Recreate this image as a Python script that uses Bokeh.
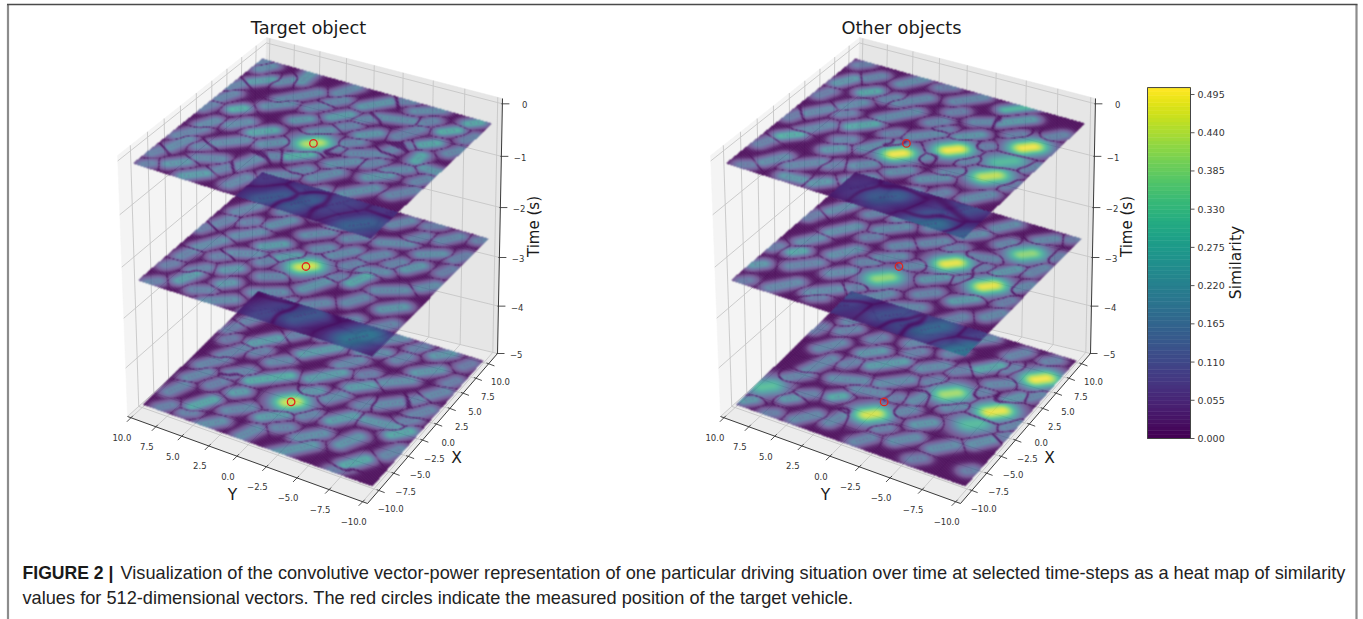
import numpy as np
from bokeh.plotting import figure
from bokeh.models import Range1d
from bokeh.embed import file_html
from bokeh.resources import INLINE
from bokeh.core.properties import value
from bokeh.palettes import Viridis256

W, H = 1363, 619

# ---------------- data ----------------
TITLES = ["Target object", "Other objects"]
AXIS_TICKS = [10.0, 7.5, 5.0, 2.5, 0.0, -2.5, -5.0, -7.5, -10.0]
TIME_TICKS = [0, -1, -2, -3, -4, -5]
CB_TICKS = [0.0, 0.055, 0.11, 0.165, 0.22, 0.275, 0.33, 0.385, 0.44, 0.495]
CB_MAX = 0.505
CIRCLE_X = [0.0, -1.3, -3.3]
CIRCLE_Y = [0.0, 0.05, 0.15]
CAPTION_1 = ("Visualization of the convolutive vector-power representation of one particular driving "
             "situation over time at selected time-steps as a heat map of similarity")
CAPTION_2 = ("values for 512-dimensional vectors. The red circles indicate the measured position of the target vehicle.")

# similarity lobes: x, y, half-length dx, half-length dy, peak
L1 = [(0,0,.3,-.3,.44),(6.7,8.2,.6,-.6,.24),(9.1,5.5,.9,0,.22),(1.7,7.5,.3,-.3,.29),(-.4,4.1,.6,-.6,.27),
      (-2.2,0,.6,-.6,.29),(4.9,.3,.6,-.5,.24),(0,-1.6,.3,-.3,.18),(7.2,-7.8,.4,-.4,.29),(4.6,-7.4,.4,-.4,.27),
      (9.3,-8.8,.3,-.3,.27),(2.2,-7.7,.5,0,.27),(-8.9,5.2,.6,-.6,.24),(-8.1,7.2,.5,-.5,.22),(1.1,-9.5,0,-.8,.22),
      (3.5,-2.9,.5,-.5,.22),(8.1,-1.2,1,-.8,.22),(8.8,9,.5,-.3,.19),(6,4.5,1.3,-1,.18),(3.9,5.2,.7,-.7,.19),
      (8.8,1.8,.8,-.4,.18),(6.7,-3.5,.4,-1.2,.2),(9.2,-5,.6,-.8,.19),(5.3,-5.3,1,-.5,.17),(2.8,2.5,.4,-.4,.22),
      (2,.4,.5,-.5,.2),(-3.5,8.8,1,-.6,.17),(-1.5,8.3,.6,-.3,.19),(-5.5,8.6,1,-.3,.19),(-3.2,5.5,.9,-.9,.19),
      (-6.2,5.5,.4,-.8,.18),(-1.6,2.6,.6,-.6,.2),(-5,2.7,1.2,-.5,.19),(-8,2,.8,-.3,.18),(-9,-.5,1,-.5,.2),
      (-5.5,-.2,.6,-.8,.18),(-3.8,-3,.9,-.6,.19),(-1.4,-3.3,.7,-.7,.2),(.8,-4.2,.6,-1,.18),(-6.8,-3.2,1,-.8,.17),
      (-4.5,-6.2,1,-.8,.2),(-1.8,-6.4,.6,-.6,.22),(-.2,-7.2,.5,-.6,.19),(-3,-9,.8,-.6,.17),(4.5,-9.5,.5,-.3,.18),
      (9.5,9.7,.2,-.2,.16),(3,9.3,.7,-.3,.17),(5.6,-1.7,.4,-.4,.18),(2.4,-5.5,.7,-.3,.17),(-7.6,-6,.8,-.8,.16),
      (7.6,6.6,.5,-.4,.19),(5,9.5,.6,-.3,.17),(.8,9.7,.5,-.2,.16),(-.3,6.3,.6,-.5,.19),(-4.8,6.9,.3,-.3,.17),
      (-7.4,9.4,.5,-.2,.16),(-9.4,9,.2,-.2,.16),(-6.9,3.8,.5,-.3,.17),(-3.4,1.7,.3,-.5,.18),(-7.2,-1.2,.5,-.4,.17),
      (-4.1,-1.2,.4,-.3,.18),(-.3,-5.2,.4,-.3,.17),(1.6,-2.4,.4,-.4,.18),(3.8,-1,.3,-.3,.17),(6.8,1.6,.5,-.4,.18),
      (5.2,2.5,.5,-.4,.18),(9.6,-2.8,.3,-.5,.17),(7.6,-5.8,.4,-.3,.17),(7,-9.6,.5,-.2,.16),(3.3,-6,.3,-.3,.16),
      (-.6,-9.4,.5,-.3,.17),(-8.8,-3,.5,-.4,.17)]
L2 = [(-1.3,.06,.3,-.3,.47),(-.87,-4.26,.8,-.3,.27),(2.9,-7,.6,-.4,.22),(-6.7,4,.3,-.3,.22),(-7.5,7,.8,-.3,.24),
      (-.7,1.9,.5,-.5,.24),(-4.7,4.7,.4,-.4,.22),(.2,3.7,.6,-.6,.24),(-3.2,-8.3,.6,-.6,.22),(-3.4,-1.8,1,-.5,.21),
      (2,-1.5,.8,-.6,.19),(3.6,1.6,.7,-.7,.19),(6.3,.2,1.1,-.8,.18),(8.6,-3.2,.7,-.5,.18),(5.5,-4.2,.5,-1,.19),
      (8.8,3.5,.6,-.6,.17),(7.2,7.2,1.2,-.7,.19),(4.1,8.2,.9,-.5,.18),(1.3,8.8,.7,-.3,.17),(3.6,4.8,.8,-.5,.2),
      (.7,6.2,.8,-.7,.19),(-2.2,8,1,-.6,.19),(-4.5,8.8,.6,-.2,.17),(-2.1,5,.5,-.9,.19),(-9.2,3.3,.7,-.9,.19),
      (-8.7,.3,.9,-.3,.18),(-6.2,.7,.6,-.9,.19),(-4,1.6,.4,-.6,.18),(-8.8,-2.6,.9,-.6,.15),(-5.9,-3,.7,-.7,.18),
      (-7,-6.1,.9,-.6,.17),(-1,-7,.6,-.9,.19),(.9,-4.7,.3,-.8,.19),(1,-9.2,.5,-.4,.19),(3,-3.8,.6,-.5,.18),
      (5.5,-7.3,.5,-.7,.2),(8.4,-7.5,.7,-.5,.18),(6.2,-9.4,.6,-.3,.16),(9.4,-9.6,.2,-.2,.16),(9.3,.3,.4,-.9,.17),
      (-5.9,-8.8,.7,-.5,.17),(-9.5,8.9,.3,-.3,.16),(4.6,-1.2,.5,-.5,.18),(1.8,.2,.4,-.4,.18),
      (5.6,5.2,.5,-.4,.17),(9.1,9.2,.4,-.2,.15),(2.4,7,.3,-.3,.16),(6.4,2.6,.4,-.3,.17),(8.2,1.6,.3,-.3,.16),
      (-.3,9.6,.4,-.2,.15),(-3.4,6.4,.3,-.3,.16),(-6,6.8,.5,-.4,.17),(-6.6,9.1,.3,-.2,.15),(-8.6,5.2,.3,-.5,.16),
      (-2.2,3,.4,-.3,.17),(.8,-2.8,.4,-.3,.17),(-1.5,-2.7,.3,-.3,.16),(2.8,-5.6,.4,-.3,.17),(7.2,-5.4,.5,-.3,.17),
      (9.5,-5.6,.3,-.4,.15),(3.8,-9.4,.5,-.2,.15),(-3.7,-5.4,.7,-.4,.18),(-6.9,-1.1,.4,-.3,.16),(-8.6,-8.6,.4,-.3,.14)]
L3 = [(-3.32,.15,.25,-.25,.46),(3.5,5.96,.9,-.7,.24),(4.5,1.5,1.2,-1,.24),(-1.2,3.1,1.2,-1.2,.29),(1.5,-.5,1.1,-.9,.24),
      (9.1,-7,.5,-.5,.22),(-2.6,-8.8,.6,-.5,.27),(-7.9,-7.6,.8,-.5,.27),(-5.8,.5,.7,-.7,.24),(-4.3,4.3,.3,-.3,.24),
      (-7.2,6,.9,-.5,.27),(-2.2,-7,.2,-1.2,.22),(6.3,-7,.7,-.7,.22),(1.6,-3.5,.6,-.6,.24),(-1.1,-.6,.4,-.4,.22),
      (-8.9,-2.9,1.3,-1,.22),(-3.2,-4.2,.8,-.6,.24),(8.8,8.6,.7,-.4,.16),(6.2,8.2,1,-.5,.17),(8.2,4.4,.9,-.6,.18),
      (7.1,1.5,.7,-.7,.17),(6.5,-2.2,.5,-.9,.19),(9.2,-2.8,.6,-.6,.19),(3.7,-5.6,.7,-.8,.2),(3.8,-8.9,.6,-.4,.18),
      (.7,-6.5,.8,-.8,.19),(.8,-9,.7,-.4,.17),(1.4,3.6,.5,-.5,.18),(.7,7.4,1.1,-.6,.17),(-1.6,8.2,.9,-.6,.17),
      (-3.9,8.3,.8,-.5,.18),(-1.7,5.6,.6,-.6,.17),(-6.5,8.8,.8,-.3,.17),(-9.2,8.3,.4,-.3,.16),(-9.3,4.1,.7,-.6,.2),
      (-8.8,1,.8,-.3,.19),(-6.4,3.2,.7,-.7,.18),(-6.6,-3.2,.8,-.7,.2),(-5.6,-6,.9,-.4,.21),(-9.3,-7,.5,-.4,.15),
      (-.9,-2.4,.6,-.4,.19),(4.2,-1.3,.8,-.5,.18),(-5.2,-9.4,.7,-.3,.18),(9.4,.2,.5,-.4,.15),
      (5.6,4.2,.4,-.3,.16),(3.8,9.2,.5,-.2,.15),(2.2,8.6,.3,-.2,.14),(8.9,-.9,.3,-.4,.14),(6.9,-4.5,.5,-.3,.17),
      (9,-5,.4,-.3,.16),(8.7,-9.2,.4,-.2,.14),(2,-7.8,.4,-.3,.17),(-.8,-8.6,.4,-.3,.16),(-.5,-4.9,.4,-.3,.17),
      (-4.2,-1.8,.4,-.3,.17),(-2.4,5.9,.2,-.2,.15),(-4.2,6.4,.5,-.3,.16),(-9,6.3,.2,-.3,.16),(-6.8,-.9,.3,-.4,.17),
      (1.8,5.6,.4,-.3,.16),(5.9,-9.2,.4,-.2,.15),(3.4,-3.2,.3,-.3,.15)]
R1 = [(-1.72,-.24,.25,-.25,.5),(1.02,-3.42,.3,-.3,.5),(4.35,-8,.3,-.3,.5),(-1.02,-7.56,.35,-.35,.45),(1.53,-7.56,.4,-.4,.31),
      (9.5,-4.71,.8,-.8,.3),(5.7,6.3,.4,-.4,.27),(-3.6,8.1,.5,-.5,.29),(.7,4.2,.7,-.7,.27),(3.6,-3.5,.6,-.6,.22),
      (7.5,-5.4,.9,-.9,.24),(6.3,8.8,.7,-.4,.22),(-8.6,2.6,.4,-.4,.22),(-9.1,4.6,.1,-.7,.22),(-3.7,4.2,.4,-.4,.22),
      (-.6,-2.6,.7,-.5,.19),(1.9,-.6,.8,-.8,.19),(4.2,-.4,.4,-.4,.17),(3.6,2.6,1.2,-.9,.19),(6.2,2.8,1,-.8,.18),
      (8.7,-.8,.9,-.8,.18),(9,4.3,.9,-.6,.19),(3.2,6.4,.7,-.5,.19),(.8,8.2,.8,-.6,.18),(-1.6,7,1,-.7,.18),
      (-1.6,1.8,.9,-.6,.2),(-.7,.8,.3,-.3,.2),(-4.6,1.2,.5,-.5,.19),(-6.8,4.9,.9,-.9,.18),(-7.5,7.2,.8,-.5,.19),
      (-4,-1.6,.5,-.5,.19),(-6.6,.4,.7,-.7,.18),(-9.2,-.4,.7,-.3,.18),(-3.6,-4.2,.6,-.7,.2),(-6.5,-3.4,.6,-.6,.18),
      (-4.2,-8.2,.8,-.6,.19),(-2,-5,.4,-.5,.18),(-7,-6.8,.7,-.7,.16),(-9.2,-9,.3,-.3,.15),(6.2,-3.6,.5,-.8,.18),
      (5.6,-6.4,.3,-.3,.16),(9.4,9,.3,-.3,.15),(7,-9,.5,-.4,.17),(1.7,-9.5,.5,-.3,.17),
      (8,7.2,.5,-.4,.17),(5.6,4.4,.4,-.3,.17),(1.6,6.2,.3,-.3,.16),(3.6,9.2,.5,-.2,.15),(-.8,9.4,.5,-.2,.15),
      (-5.6,9.2,.5,-.2,.16),(-2,4.2,.3,-.4,.17),(-5.8,3,.3,-.3,.16),(-9.3,8.6,.2,-.3,.15),(-7.8,-1.6,.4,-.3,.16),
      (.2,-5.2,.4,-.3,.17),(2.7,-5.2,.3,-.3,.16),(3.4,-1.5,.2,-.2,.15),(.8,1.6,.3,-.3,.16),(6.4,-.9,.3,-.3,.16),
      (9.5,1.6,.3,-.4,.15),(-1.4,-9.4,.5,-.2,.15),(-5.4,-5.6,.5,-.3,.16)]
R2 = [(1.25,-3.15,.3,-.3,.49),(5.6,-7.45,.3,-.3,.4),(-3.43,.25,.35,-.35,.4),(-.25,-7.05,.3,-.3,.49),(-1.4,-3.1,.6,-.6,.22),
      (2.5,-7.3,.7,-.5,.22),(-3,-6.4,.6,-.6,.24),(-3.5,7.8,.3,-.3,.27),(-6.8,9.4,.3,-.3,.22),(-4.9,6.4,.8,-.8,.17),
      (-8.4,6.2,.9,-.7,.18),(-7.5,3.2,.8,-.8,.19),(-4.4,3.4,.6,-.6,.19),(-1.6,4.6,.9,-.6,.2),(-.4,1.3,.6,-.7,.19),
      (-1.4,7.8,.7,-.5,.19),(1.4,6.4,1,-.7,.2),(4.2,8.2,.9,-.5,.19),(7.2,7.8,1,-.6,.18),(3.6,3.2,.8,-.8,.19),
      (1.6,1.4,.4,-.4,.18),(3.4,-.6,.6,-.6,.18),(6.2,2.8,1.1,-.8,.19),(8.8,-.7,.8,-.6,.18),(6,-2.6,.6,-.6,.19),
      (8.6,-4.2,.7,-.5,.19),(8.4,-7.8,.5,-.5,.18),(3.3,-4.8,.3,-.9,.17),(-.6,-.9,.4,-.4,.18),(-6,-.6,.8,-.6,.19),
      (-8.9,-.7,.6,-.4,.18),(-6.2,-3.2,.5,-.9,.18),(-3.7,-3.6,.5,-.5,.17),(-6,-6.9,.8,-.5,.17),(-3.8,-9.2,.6,-.4,.18),
      (1,-9.3,.6,-.4,.18),(3.8,-9.2,.7,-.3,.17),(-.3,-4.9,.3,-.3,.16),(9.3,9.3,.3,-.2,.15),
      (5,5.4,.5,-.4,.17),(8.8,4.8,.4,-.4,.16),(2,9.5,.5,-.2,.15),(-3.8,9.6,.3,-.2,.15),(-9.4,9,.2,-.2,.14),
      (-5.8,1.4,.3,-.3,.16),(-2,2.4,.3,-.4,.17),(1.5,4,.3,-.3,.16),(5.4,.5,.3,-.3,.16),(9.4,1.8,.3,-.3,.15),
      (3.5,-2.4,.3,-.3,.16),(1.8,-5.4,.3,-.3,.15),(6.2,-5.4,.4,-.3,.17),(6.4,-9.6,.4,-.2,.15),(-1.6,-9.2,.4,-.2,.15),
      (-8.4,-3.8,.3,-.4,.15),(-8.6,3.2,.2,-.3,.15),(9.5,-9.5,.2,-.2,.14)]
R3 = [(-5.37,.2,.3,-.3,.47),(.54,-3.76,.35,-.35,.42),(6.12,-8.75,.3,-.3,.5),(.16,-7.72,.35,-.35,.49),(-2.3,-7,.3,-.3,.31),
      (5.5,-4.7,.7,-.6,.27),(-6.4,9.1,.3,-.3,.32),(-4.6,3.6,.3,-.3,.27),(-8.9,9.4,.3,-.3,.22),(-6.9,6.7,.3,-.3,.22),
      (2.3,-8,.8,-.5,.22),(-4.3,-3.8,.5,-.5,.22),(1.7,2.4,1,-1,.24),(2.6,4.2,.6,-.6,.22),(-8,-9.4,.2,-.2,.15),
      (6.4,7.6,.9,-.5,.17),(8.9,5.6,.7,-.5,.18),(4.5,7.4,.5,-.5,.17),(1.6,7.6,.9,-.6,.18),(-1.3,7,1.3,-.5,.18),
      (-2,4,.5,-1.1,.19),(-.3,.7,.9,-.9,.19),(-2.6,1.8,.3,-1,.18),(-3.8,7.8,.7,-.6,.17),(-8.5,4.4,.8,-.6,.18),
      (-7.4,2.2,.8,-.3,.18),(-8.8,-.8,.6,-.4,.17),(-3.6,-1.8,.5,-.4,.18),(-1.3,-2,.7,-.3,.19),(3.2,-.9,.7,-.7,.19),
      (6.2,1.4,.9,-.8,.18),(8.8,1,.7,-.6,.19),(8.8,-2.4,.7,-.7,.18),(3.9,-3,.4,-.4,.16),(3.8,-6.4,.5,-.6,.18),
      (8.4,-5.8,.6,-.4,.17),(8.9,-8.4,.3,-.3,.16),(-7,-3.5,.7,-.6,.19),(-6.3,-6.4,.7,-.6,.19),(-4.1,-8.6,.7,-.5,.2),
      (-1,-4.8,.5,-.5,.18),(-.9,-9.5,.6,-.3,.17),(3.7,-9.4,.5,-.3,.17),
      (4.6,4.8,.4,-.3,.16),(9.2,9.2,.3,-.2,.14),(3.4,9.6,.5,-.2,.14),(.2,5,.4,-.3,.16),(-5.6,5.8,.3,-.4,.16),
      (-9.5,7,.2,-.3,.15),(-5.8,1.6,.3,-.2,.16),(-6.6,-1.4,.3,-.3,.16),(-2.3,-.4,.2,-.2,.15),(1.4,-1.8,.4,-.3,.16),
      (6,-1.4,.5,-.3,.17),(4.4,1.2,.4,-.3,.16),(9.5,3.6,.2,-.3,.14),(6.2,-6.2,.4,-.3,.16),(1.8,-5.6,.4,-.3,.16),
      (-2.6,-9.6,.4,-.2,.15),(-8.8,-5.4,.3,-.3,.15)]
# overlap strips, seen through two layers
S_L12 = [(-8.8,-1.2,.7,-.7,.14),(-8.2,-3.4,.7,-.5,.15),(-8.7,-8.5,.6,-.6,.16),(-7,-5.6,.9,-.6,.1),(-5.8,-3.2,.7,-.5,.1),(-6,-9.5,.3,-.3,.07),(-6.3,.2,.4,-.4,.07)]
S_L23 = [(-7.6,-3.1,.8,-.6,.14),(-8.2,-8,.7,-.5,.22),(-8.5,-.8,.9,-.6,.1),(-6,-4.3,.6,-.5,.08),(-5.8,-1.6,.5,-.5,.07),(-6.3,-9,.5,-.4,.05)]
S_R12 = [(-7.8,-2.6,.5,-.5,.16),(-9.7,-6.9,.6,-.6,.2),(-9.8,-9.7,.4,-.4,.16),(-8,-7,.5,-.5,.13),(-6.2,-8.3,.6,-.4,.12),(-7.8,-.1,.5,-.5,.07),(-6.2,-3,.5,-.5,.08)]
S_R23 = [(-9.4,-9.4,.5,-.5,.22),(-7.9,-6.1,.7,-.5,.18),(-7.8,-2.8,.6,-.6,.12),(-6.4,.9,.4,-.4,.14),(-8.4,-4.4,.4,-.4,.12),(-6.8,-9.8,.4,-.4,.1),(-8.6,.9,.4,-.4,.1)]

# ---------------- camera calibration of the 3-D view (left panel, page pixels) ----------------
PANEL_SHIFT = [0, 593]
G = 10.35
X_TICK_SCALE = 0.875
FLOOR = [(127, 416), (260, 296), (497, 353), (367, 503)]   # corner order: left, back, right, front
CEIL = [(117, 155), (266, 37), (502, 98), (356, 251)]
PLANES = [[(132, 163), (262, 58), (492, 123), (370, 238)],
          [(137, 280), (262, 172), (488, 238), (372, 356)],
          [(142, 404), (258, 291), (483, 360), (372, 486)]]
T_TOP, T_BOT = 0.1, -5.0


def homography(src, dst):
    A, b = [], []
    for (x, y), (u, v) in zip(src, dst):
        A.append([x, y, 1, 0, 0, 0, -u * x, -u * y]); b.append(u)
        A.append([0, 0, 0, x, y, 1, -v * x, -v * y]); b.append(v)
    h = np.linalg.solve(np.array(A, float), np.array(b, float))
    return np.append(h, 1).reshape(3, 3)


def apply(M, x, y):
    d = M[2, 0] * x + M[2, 1] * y + M[2, 2]
    return (M[0, 0] * x + M[0, 1] * y + M[0, 2]) / d, (M[1, 0] * x + M[1, 1] * y + M[1, 2]) / d


def corners_xy(L):
    return [(-L, L), (L, L), (L, -L), (-L, -L)]


HF = homography(corners_xy(G), FLOOR)
HC = homography(corners_xy(G), CEIL)
HP = [homography(corners_xy(10), c) for c in PLANES]
HPI = [np.linalg.inv(m) for m in HP]


def p3(x, y, t):
    f = apply(HF, x, y)
    c = apply(HC, x, y)
    k = (t - T_BOT) / (T_TOP - T_BOT)
    k = k - 0.066 * k * (1 - k)
    return f[0] + (c[0] - f[0]) * k, f[1] + (c[1] - f[1]) * k


PAL = np.array([[int(c[i:i + 2], 16) for i in (1, 3, 5)] for c in Viridis256], float)


def field(X, Y, blobs, sigma, peak_sigma):
    f1 = np.zeros(X.shape)
    f2 = np.zeros(X.shape)
    core = np.zeros(X.shape, bool)
    for (bx, by, dx, dy, a) in blobs:
        L2_ = dx * dx + dy * dy
        s = np.clip(((X - bx) * dx + (Y - by) * dy) / L2_, -1, 1)
        ex, ey = X - (bx + s * dx), Y - (by + s * dy)
        d2 = ex * ex + ey * ey
        sg = peak_sigma if a > .3 else sigma
        f = a * np.exp(-d2 / (2 * sg * sg))
        win = f > f1
        f2 = np.where(win, f1, np.maximum(f2, f))
        c = (d2 < 0.014) & (np.floor(s * 7 * np.sqrt(L2_)) % 2 == 0) & (np.abs(s) < .999) & (a < .3)
        core = np.where(win, c, core)
        f1 = np.where(win, f, f1)
    g = np.clip((f1 - f2) / (f1 + 1e-6) / 0.45, 0, 1)
    g = g * g * (3 - 2 * g)
    v = f1 * (0.1 + 0.9 * g)
    v = np.where(core, v * 0.65, v)
    return np.clip(v, 0, None), g


def blur(a):
    k = np.array([.18, .64, .18])
    out = a.copy()
    out[:, 1:-1] = k[0] * a[:, :-2] + k[1] * a[:, 1:-1] + k[2] * a[:, 2:]
    o2 = out.copy()
    o2[1:-1, :] = k[0] * out[:-2, :] + k[1] * out[1:-1, :] + k[2] * out[2:, :]
    return o2


def plane_image(idx, blobs, strip=None):
    c = np.array(PLANES[idx])
    x0, x1 = int(c[:, 0].min()) - 2, int(c[:, 0].max()) + 3
    y0, y1 = int(c[:, 1].min()) - 2, int(c[:, 1].max()) + 3
    ix, iy = np.meshgrid(np.arange(x0, x1), np.arange(y0, y1))
    px, py = ix + .5, iy + .5
    X, Y = apply(HPI[idx], px, py)
    inside = (np.abs(X) <= 10) & (np.abs(Y) <= 10)
    v, g = field(X, Y, blobs, 0.5, 0.95)
    # dark speckled seams between lobes
    seam = np.clip(1 - g / 0.5, 0, 1) + np.clip(1 - v / 0.045, 0, 1)
    seam = np.clip(seam, 0, 1) * (((ix + 2 * iy) % 3) != 0)
    alpha = np.where(inside, 0.72 + 0.27 * seam, 0.0)
    if strip is not None:
        X2, Y2 = apply(HPI[idx + 1], px, py)
        over = inside & (np.abs(X2) <= 10) & (np.abs(Y2) <= 10)
        vs, gs = field(X, Y, strip, 1.1, 1.1)
        v = np.where(over, vs * 0.85 + 0.015, v)
        alpha = np.where(over, 0.88, alpha)
    idxs = np.clip(v / CB_MAX * 255, 0, 255).astype(int)
    rgb = PAL[idxs]
    out = np.zeros(v.shape + (4,))
    for i in range(3):
        out[..., i] = blur(rgb[..., i] * alpha)
    a = blur(alpha)
    for i in range(3):
        out[..., i] = np.where(a > 1e-3, out[..., i] / np.maximum(a, 1e-3), 0)
    out[..., 3] = a * 255
    o = np.clip(out, 0, 255).astype(np.uint32)
    img = o[..., 0] | (o[..., 1] << 8) | (o[..., 2] << 16) | (o[..., 3] << 24)
    return img[::-1], x0, y1, x1 - x0, y1 - y0


p = figure(width=W, height=H, x_range=Range1d(0, W), y_range=Range1d(0, H),
           output_backend="svg", toolbar_location=None, min_border=0,
           x_axis_type=None, y_axis_type=None, outline_line_color=None)
p.grid.visible = False


def fy(v):
    return H - v


def T(x, y, s, size, align="center", base="middle", angle=0.0, color="#333333", font="DejaVu Sans", style="normal"):
    p.text([x], [fy(y)], text=[s], text_font=value(font), text_font_size=value(f"{size}px"), text_align=align,
           text_baseline=base, angle=angle, text_color=color, text_font_style=style)


def poly(pts, sh, color):
    p.patch([a + sh for a, b in pts], [fy(b) for a, b in pts], fill_color=color, line_color=color, line_width=.5)


def seg(lines, sh, color, w):
    p.multi_line([[a + sh, c + sh] for (a, b), (c, d) in lines], [[fy(b), fy(d)] for (a, b), (c, d) in lines],
                 line_color=color, line_width=w)


PLANE_DATA = [[L1, L2, L3], [R1, R2, R3]]
STRIP_DATA = [[S_L12, S_L23], [S_R12, S_R23]]
GRIDC = "#c6c6c6"
XS = X_TICK_SCALE

for k, sh in enumerate(PANEL_SHIFT):
    lb = p3(-G, G, T_BOT); bb = p3(G, G, T_BOT); rb = p3(G, -G, T_BOT); fb = p3(-G, -G, T_BOT)
    lt = p3(-G, G, T_TOP); bt = p3(G, G, T_TOP); rt = p3(G, -G, T_TOP)
    poly([lb, bb, bt, lt], sh, "#f4f4f4")
    poly([bb, rb, rt, bt], sh, "#e6e6e6")
    poly([lb, bb, rb, fb], sh, "#ececec")
    g = []
    for v in AXIS_TICKS:
        g.append((p3(v * XS, -G, T_BOT), p3(v * XS, G, T_BOT)))
        g.append((p3(-G, v, T_BOT), p3(G, v, T_BOT)))
        g.append((p3(v * XS, G, T_BOT), p3(v * XS, G, T_TOP)))
        g.append((p3(G, v, T_BOT), p3(G, v, T_TOP)))
    for t in TIME_TICKS:
        g.append((p3(-G, G, t), p3(G, G, t)))
        g.append((p3(G, G, t), p3(G, -G, t)))
    seg(g, sh, GRIDC, 0.9)

    for i in [2, 1, 0]:
        strip = STRIP_DATA[k][i] if i < 2 else None
        img, x, yb, dw, dh = plane_image(i, PLANE_DATA[k][i], strip)
        p.image_rgba(image=[img], x=x + sh, y=fy(yb), dw=dw, dh=dh)

    cx, cy = [], []
    for i in range(3):
        a, b = apply(HP[i], CIRCLE_X[i], CIRCLE_Y[i])
        cx.append(a + sh); cy.append(fy(b))
    p.scatter(cx, cy, size=7.5, marker="circle", fill_alpha=0, line_color="#e0261c", line_width=1.3)

    seg([(lb, fb), (fb, rb), (rb, rt)], sh, "#3a3a3a", 1.0)
    ticks = []
    for v in AXIS_TICKS:
        q = p3(v * XS, -G, T_BOT)
        ticks.append(((q[0] - 2, q[1] - 1), (q[0] + 6, q[1] + 2)))
        T(q[0] + sh + 12, q[1] + 18, f"{v:.1f}".replace("-", "\u2212"), 8.5)
        q = p3(-G, v, T_BOT)
        ticks.append(((q[0] + 2, q[1] - 2), (q[0] - 4, q[1] + 4)))
        T(q[0] + sh - 9, q[1] + 20, f"{v:.1f}".replace("-", "\u2212"), 8.5)
    for t in TIME_TICKS:
        q = p3(G, -G, t)
        ticks.append(((q[0] - 1, q[1]), (q[0] + 7, q[1])))
        T(q[0] + sh + 25, q[1] + 1, f"{t}".replace("-", "\u2212"), 8.5, align="right")
    seg(ticks, sh, "#3a3a3a", 0.9)

    T(308 + sh, 27, TITLES[k], 17.8, color="#1a1a1a")
    T(456 + sh, 457, "X", 15.5, color="#1a1a1a")
    T(232 + sh, 494, "Y", 15.5, color="#1a1a1a")
    T(533 + sh, 226, "Time (s)", 15, angle=np.pi / 2, color="#1a1a1a")

# colour bar
CB_Y0, CB_K = 438.0, (438.0 - 94.0) / 0.495
CB_X0, CB_X1 = 1147, 1190
levels = np.linspace(0, CB_MAX, 93)
cols = [Viridis256[int(i / 91 * 255)] for i in range(92)]
p.quad(left=CB_X0, right=CB_X1, bottom=[fy(CB_Y0 - a * CB_K) for a in levels[:-1]],
       top=[fy(CB_Y0 - a * CB_K) for a in levels[1:]],
       fill_color=cols, line_color=cols, line_width=0.6)
cbtop = CB_Y0 - CB_MAX * CB_K
p.multi_line([[CB_X0, CB_X1, CB_X1, CB_X0, CB_X0]], [[fy(cbtop), fy(cbtop), fy(CB_Y0), fy(CB_Y0), fy(cbtop)]],
             line_color="#444444", line_width=1)
seg([((CB_X1, CB_Y0 - v * CB_K), (CB_X1 + 4, CB_Y0 - v * CB_K)) for v in CB_TICKS], 0, "#444444", 0.9)
for v in CB_TICKS:
    T(1197, CB_Y0 - v * CB_K, f"{v:.3f}", 9.5, align="left")
T(1235, 262, "Similarity", 15.5, angle=np.pi / 2, color="#1a1a1a")

# frame of the figure
p.multi_line([[7.5, 7.5], [1356, 1356]], [[fy(4), 0], [fy(4), 0]], line_color="#8c8c8c", line_width=2.2)
p.multi_line([[6.5, 1357]], [[fy(4), fy(4)]], line_color="#4a4a4a", line_width=1.4)

# caption
CAPF = "Liberation Sans"
T(22, 572, "FIGURE 2 |", 17.6, align="left", color="#1a1a1a", font=CAPF, style="bold")
T(120, 572, CAPTION_1, 18.2, align="left", color="#222222", font=CAPF)
T(22, 597, CAPTION_2, 18.2, align="left", color="#222222", font=CAPF)

html = file_html(p, INLINE)
html = html.replace("<body>", '<body style="margin:0;overflow:hidden">')
open("out.html", "w").write(html)
